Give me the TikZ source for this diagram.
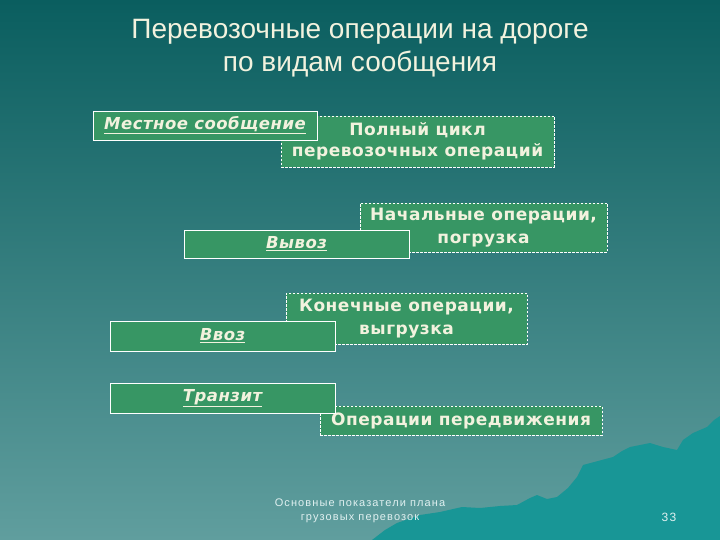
\documentclass[tikz,border=0pt]{standalone}
\usepackage{fontspec}
\setmainfont{Liberation Sans}
\newfontfamily\vfont[LetterSpace=3]{DejaVu Sans}
\newfontfamily\footfont[LetterSpace=10]{Liberation Sans}
\definecolor{bgtop}{RGB}{10,94,95}
\definecolor{bgbot}{RGB}{96,158,158}
\definecolor{mount}{RGB}{24,150,150}
\definecolor{boxfill}{RGB}{55,150,100}
\definecolor{txt}{RGB}{242,242,222}
\tikzset{
  solidbox/.style={draw=white, line width=0.9pt, fill=boxfill, inner sep=0pt,
    font=\vfont\bfseries\itshape\fontsize{16.5}{18}\selectfont, text=txt},
  dashbox/.style={draw=white, line width=0.7pt, dash pattern=on 2.5pt off 1.5pt,
    fill=boxfill, inner sep=0pt, align=center,
    font=\vfont\bfseries\fontsize{17}{23}\selectfont, text=txt},
  titletext/.style={text=txt, align=center, font=\fontsize{28}{33}\selectfont},
  foottext/.style={text=white!88!teal, align=center, font=\footfont\fontsize{11}{13.5}\selectfont}
}
\begin{document}
\begin{tikzpicture}[x=1pt,y=-1pt]
  \useasboundingbox (0,0) rectangle (720,540);
  \shade[top color=bgtop, bottom color=bgbot] (0,0) rectangle (720,540);
  \fill[mount] (372,540) -- (385,530) -- (397,523) -- (420,515) -- (440,512) -- (462,507)
    -- (480,508) -- (500,506) -- (517,505) -- (530,498) -- (537,495) -- (547,499) -- (557,497)
    -- (568,488) -- (577,477) -- (583,465) -- (598,461) -- (613,457) -- (622,451) -- (630,447)
    -- (650,443) -- (663,447) -- (677,450) -- (683,440) -- (693,433) -- (707,427) -- (714,420)
    -- (720,416) -- (720,540) -- cycle;

  \node[titletext] (title) at (360,48) {Перевозочные операции на дороге\\по видам сообщения};

  % dashed boxes (behind)
  \node[dashbox, minimum width=273pt, minimum height=51pt] (full) at (417.5,141.5)
    {\raisebox{-2pt}{Полный цикл}\\перевозочных операций};
  \node[dashbox, minimum width=247pt, minimum height=49pt] (start) at (483.5,227.5)
    {Начальные операции,\\погрузка};
  \node[dashbox, minimum width=241pt, minimum height=51pt] (end) at (406.5,318.5)
    {Конечные операции,\\выгрузка};
  \node[dashbox, minimum width=282pt, minimum height=29pt] (move) at (461,420.5)
    {Операции передвижения};

  % solid boxes (front)
  \node[solidbox, minimum width=224pt, minimum height=29pt] (local) at (205,125.5)
    {\underline{Местное сообщение}};
  \node[solidbox, minimum width=225pt, minimum height=28pt] (export) at (296.5,244)
    {\underline{Вывоз}};
  \node[solidbox, minimum width=225pt, minimum height=30pt] (import) at (222.5,336)
    {\underline{Ввоз}};
  \node[solidbox, minimum width=225pt, minimum height=30pt] (transit) at (222.5,398)
    {\underline{Транзит}};

  \node[foottext] (foot) at (360,511) {Основные показатели плана\\грузовых перевозок};
  \node[foottext, font=\footfont\fontsize{12}{14}\selectfont] (num) at (669,517) {33};
\end{tikzpicture}
\end{document}
